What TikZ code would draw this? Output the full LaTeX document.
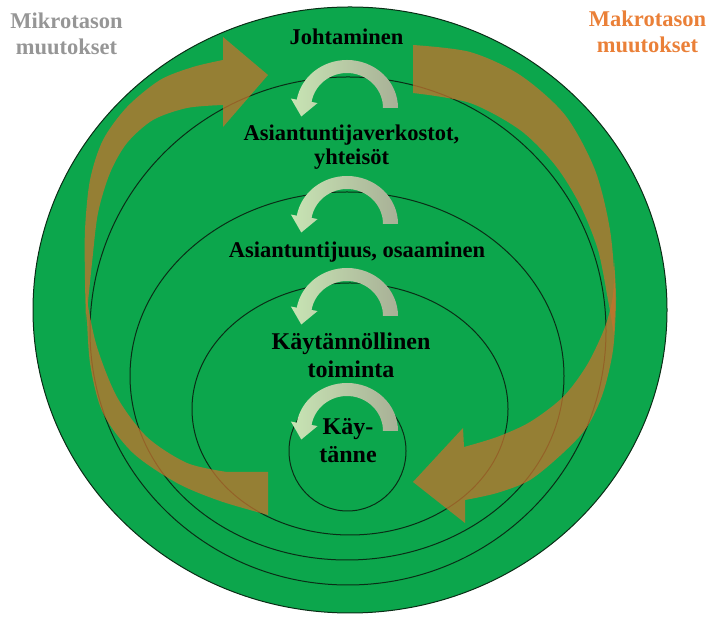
\documentclass[tikz,border=0pt]{standalone}
\usepackage{fontspec}
\setmainfont{Liberation Serif}

\definecolor{discgreen}{RGB}{12,166,76}
\definecolor{ringline}{RGB}{10,45,22}
\definecolor{bandbrown}{RGB}{195,115,45}
\definecolor{looplight}{RGB}{200,228,180}
\definecolor{loopgray}{RGB}{168,176,150}
\definecolor{microgray}{RGB}{150,150,150}
\definecolor{macroorange}{RGB}{234,128,56}

\begin{document}
\begin{tikzpicture}[x=1pt,y=1pt,
    ring/.style={draw=ringline,line width=1pt},
    band/.style={fill=bandbrown,fill opacity=0.75},
    loop arrow/.style={left color=looplight,right color=loopgray},
    level label/.style={font=\bfseries\fontsize{22.5}{24}\selectfont,anchor=base,align=center,inner sep=0pt},
    core label/.style={level label,font=\bfseries\fontsize{24}{28}\selectfont},
    side label/.style={level label,font=\bfseries\fontsize{22.5}{26.5}\selectfont}]
    \useasboundingbox (0,0) rectangle (706,617);

    % levels
    \draw[ring,fill=discgreen] (350,307) ellipse [x radius=317,y radius=303];
    \draw[ring] (348,286) ellipse [x radius=258,y radius=254];
    \draw[ring] (347,241) ellipse [x radius=217,y radius=184];
    \draw[ring] (350,208) ellipse [x radius=158,y radius=126];
    \draw[ring] (347.5,166) ellipse [x radius=58.5,y radius=60];

    % micro level changes
    \fill[band] plot[smooth] coordinates {(86,295) (85,337) (85,387) (90,437) (103,477) (127,510) (160,537) (193,550) (223,557)}
        -- (223,580) -- (268,542) -- (223,490)
        -- plot[smooth] coordinates {(223,512) (187,509) (153,497) (127,474) (110,444) (98,404) (92,354) (86,295)} -- cycle;
    \fill[band] plot[smooth] coordinates {(85,342) (86,320) (90,254) (103,204) (133,164) (177,134) (220,116) (268,102)}
        -- (268,145)
        -- plot[smooth] coordinates {(227,145) (187,154) (147,180) (117,220) (97,270) (87,317) (85,342)} -- cycle;

    % macro level changes
    \fill[band] plot[smooth] coordinates {(413,572) (470,565) (520,542) (565,502) (595,447) (610,387) (615,327) (614,282)}
        -- plot[smooth] coordinates {(614,282) (608,317) (598,367) (580,412) (555,452) (520,487) (470,514) (413,524)} -- cycle;
    \fill[band] plot[smooth] coordinates {(614,357) (613,322) (605,290) (587,252) (563,220) (530,195) (497,180) (464,170)}
        -- (463,189) -- (413,135) -- (465,94)
        -- plot[smooth] coordinates {(465,117) (497,124) (530,137) (563,164) (587,190) (603,224) (613,267) (616,317) (614,357)} -- cycle;

    % loops between levels
    \foreach \cy in {509,393,301,186}
        \shade[loop arrow,shift={(347,\cy)}] (0:51 and 48) arc[start angle=0,end angle=170,x radius=51,y radius=48]
            -- (-56.1,9.5) -- (-45.7,-8.5) -- (-29.5,4.9) -- (170:36 and 35)
            arc[start angle=170,end angle=0,x radius=36,y radius=35] -- cycle;

    \node[level label] (lead) at (346.5,572) {Johtaminen};
    \node[level label] (networks) at (351.5,452) {Asiantuntijaverkostot,\\yhteisöt};
    \node[level label] (expertise) at (357,359) {Asiantuntijuus, osaaminen};
    \node[core label] (action) at (351,239) {Käytännöllinen\\toiminta};
    \node[core label] (practice) at (348,154) {Käy-\\tänne};
    \node[side label,text=microgray] (micro) at (66.5,562) {Mikrotason\\muutokset};
    \node[side label,text=macroorange] (macro) at (647.5,564) {Makrotason\\muutokset};
\end{tikzpicture}
\end{document}
